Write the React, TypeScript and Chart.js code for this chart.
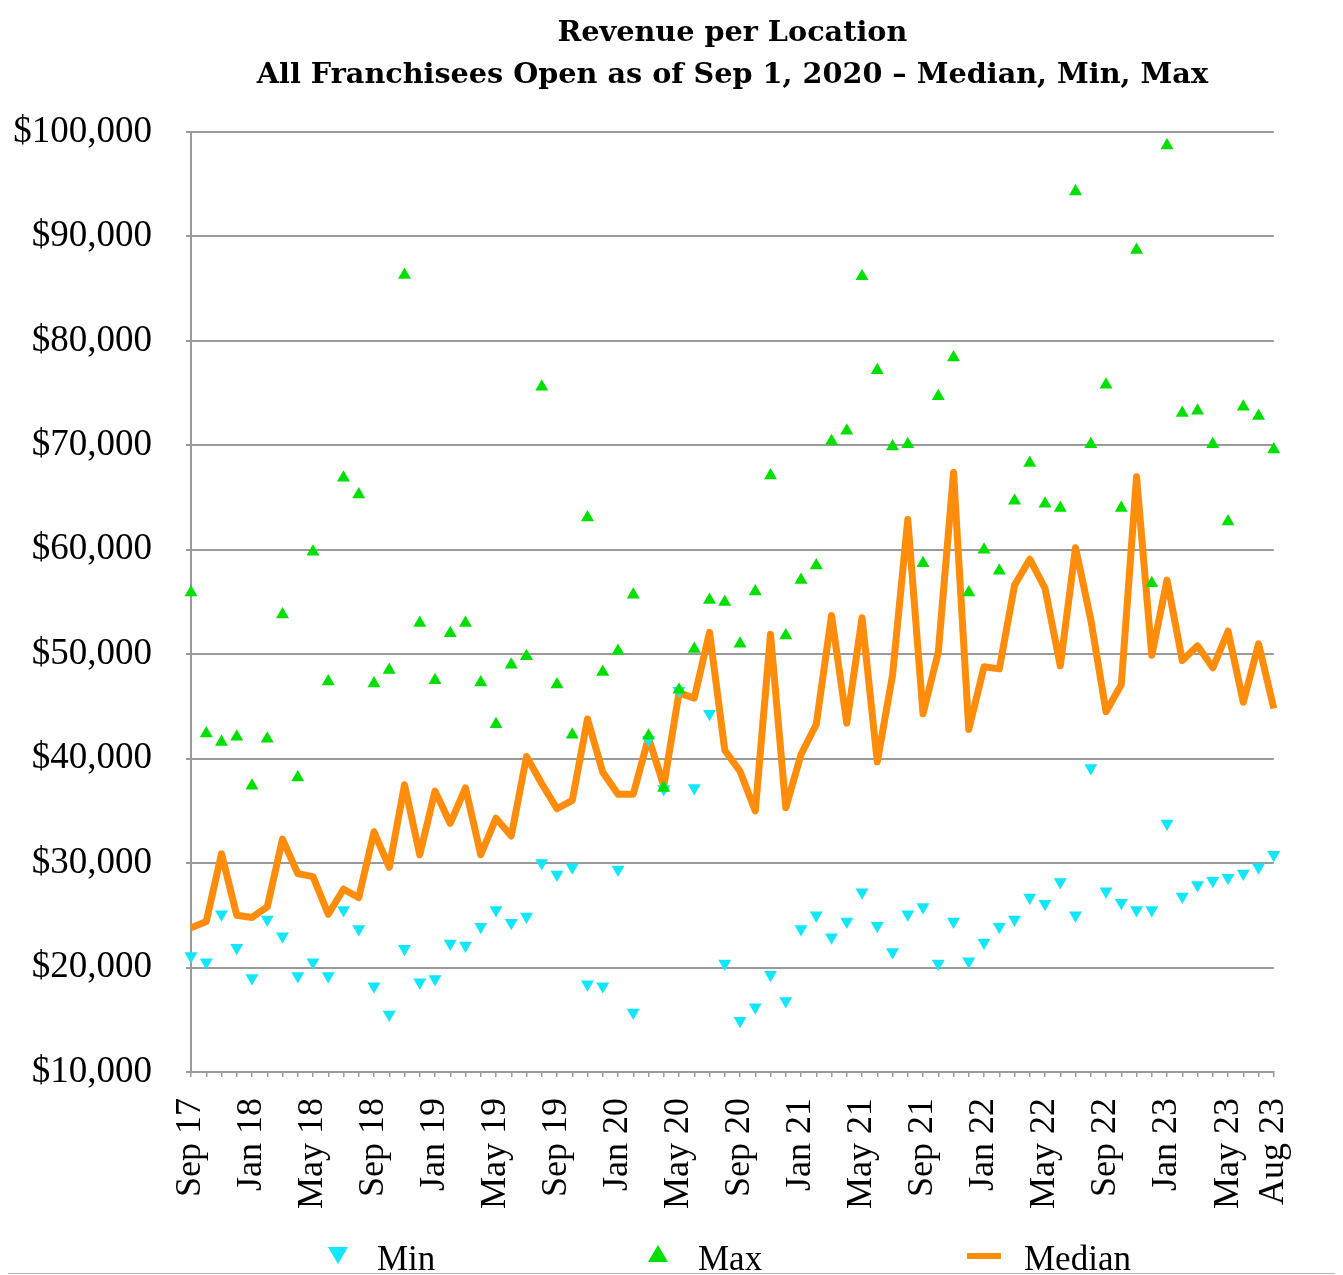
import React, { useEffect, useRef } from 'react';
import { Chart, registerables } from 'chart.js';

Chart.register(...registerables);

const months = [
  'Sep 17', 'Oct 17', 'Nov 17', 'Dec 17',
  'Jan 18', 'Feb 18', 'Mar 18', 'Apr 18', 'May 18', 'Jun 18', 'Jul 18', 'Aug 18', 'Sep 18', 'Oct 18', 'Nov 18', 'Dec 18',
  'Jan 19', 'Feb 19', 'Mar 19', 'Apr 19', 'May 19', 'Jun 19', 'Jul 19', 'Aug 19', 'Sep 19', 'Oct 19', 'Nov 19', 'Dec 19',
  'Jan 20', 'Feb 20', 'Mar 20', 'Apr 20', 'May 20', 'Jun 20', 'Jul 20', 'Aug 20', 'Sep 20', 'Oct 20', 'Nov 20', 'Dec 20',
  'Jan 21', 'Feb 21', 'Mar 21', 'Apr 21', 'May 21', 'Jun 21', 'Jul 21', 'Aug 21', 'Sep 21', 'Oct 21', 'Nov 21', 'Dec 21',
  'Jan 22', 'Feb 22', 'Mar 22', 'Apr 22', 'May 22', 'Jun 22', 'Jul 22', 'Aug 22', 'Sep 22', 'Oct 22', 'Nov 22', 'Dec 22',
  'Jan 23', 'Feb 23', 'Mar 23', 'Apr 23', 'May 23', 'Jun 23', 'Jul 23', 'Aug 23',
];

const shownTicks = [
  'Sep 17', 'Jan 18', 'May 18', 'Sep 18', 'Jan 19', 'May 19', 'Sep 19', 'Jan 20', 'May 20', 'Sep 20',
  'Jan 21', 'May 21', 'Sep 21', 'Jan 22', 'May 22', 'Sep 22', 'Jan 23', 'May 23', 'Aug 23',
];

const medianValues = [
  23800, 24400, 30900, 25000, 24800, 25800, 32300, 29000, 28700, 25100,
  27500, 26700, 33000, 29600, 37500, 30800, 36900, 33800, 37200, 30800,
  34300, 32600, 40200, 37600, 35200, 36000, 43800, 38700, 36600, 36600,
  42000, 37400, 46300, 45800, 52100, 40800, 38800, 35000, 51900, 35300,
  40400, 43300, 53700, 43400, 53500, 39700, 48000, 62900, 44300, 50200,
  67400, 42800, 48800, 48600, 56600, 59100, 56300, 48900, 60200, 53300,
  44500, 47100, 67000, 49900, 57100, 49400, 50800, 48700, 52200, 45400,
  51000, 44800,
];

const maxValues = [
  55900, 42400, 41600, 42100, 37400, 41900, 53800, 38200, 59800, 47400,
  66900, 65300, 47200, 48500, 86300, 53000, 47500, 52000, 53000, 47300,
  43300, 49000, 49800, 75600, 47100, 42300, 63100, 48300, 50300, 55700,
  42200, 37200, 46600, 50500, 55200, 55000, 51000, 56000, 67100, 51800,
  57100, 58500, 70400, 71400, 86200, 77200, 69900, 70100, 58700, 74700,
  78400, 55900, 60000, 58000, 64700, 68300, 64400, 64000, 94300, 70100,
  75800, 64000, 88700, 56800, 98700, 73100, 73300, 70100, 62700, 73700,
  72800, 69600,
];

const minValues = [
  21100, 20500, 25100, 21900, 19000, 24600, 23000, 19200, 20500, 19200,
  25500, 23700, 18200, 15500, 21800, 18600, 18900, 22300, 22100, 23900,
  25500, 24300, 24900, 30000, 28900, 29600, 18400, 18200, 29400, 15700,
  41800, 37100, 46500, 37200, 44300, 20400, 14900, 16200, 19300, 16800,
  23700, 25000, 22900, 24400, 27200, 24000, 21500, 25100, 25800, 20400,
  24400, 20600, 22400, 23900, 24600, 26700, 26100, 28200, 25000, 39100,
  27300, 26200, 25500, 25500, 33800, 26800, 27900, 28300, 28600, 29000,
  29600, 30800,
];

const yTickLabels = [
  '$10,000', '$20,000', '$30,000', '$40,000', '$50,000',
  '$60,000', '$70,000', '$80,000', '$90,000', '$100,000',
];

const titleLines = [
  'Revenue per Location',
  'All Franchisees Open as of Sep 1, 2020 \u2013 Median, Min, Max',
];

const seriesNames = ['Min', 'Max', 'Median'];

const COLOR_MIN = '#12e6fb';
const COLOR_MAX = '#00e000';
const COLOR_MED = '#ff8c0a';
const GRID = '#9a9a9a';

const decorPlugin = {
  id: 'decor',
  afterDraw(chart: any) {
    const { ctx, chartArea } = chart;
    const cx = (chartArea.left + chartArea.right) / 2;
    const L = chartArea.left;
    ctx.save();
    ctx.fillStyle = '#000';
    ctx.textAlign = 'center';
    ctx.textBaseline = 'alphabetic';
    ctx.font = 'bold 28.7px "DejaVu Serif"';
    ctx.fillText(titleLines[0], cx, 33);
    ctx.fillText(titleLines[1], cx, 75);

    const by = 1262;
    // Min: down triangle
    ctx.fillStyle = COLOR_MIN;
    ctx.beginPath();
    ctx.moveTo(L + 137, 1239);
    ctx.lineTo(L + 157, 1239);
    ctx.lineTo(L + 147, 1256);
    ctx.closePath();
    ctx.fill();
    // Max: up triangle
    ctx.fillStyle = COLOR_MAX;
    ctx.beginPath();
    ctx.moveTo(L + 457, 1254);
    ctx.lineTo(L + 477, 1254);
    ctx.lineTo(L + 467, 1237);
    ctx.closePath();
    ctx.fill();
    // Median: short line
    ctx.fillStyle = COLOR_MED;
    ctx.fillRect(L + 776, 1245, 34, 6);

    ctx.fillStyle = '#000';
    ctx.textAlign = 'left';
    ctx.font = '35px "Liberation Serif"';
    ctx.fillText(seriesNames[0], L + 186, by);
    ctx.fillText(seriesNames[1], L + 507, by);
    ctx.fillText(seriesNames[2], L + 833, by);
    ctx.restore();
  },
};

export default function App() {
  const canvasRef = useRef<HTMLCanvasElement | null>(null);

  useEffect(() => {
    const canvas = canvasRef.current;
    if (!canvas) return;
    const chart = new Chart(canvas, {
      type: 'line',
      data: {
        labels: months,
        datasets: [
          {
            label: seriesNames[0],
            data: minValues,
            showLine: false,
            pointStyle: 'triangle',
            rotation: 180,
            pointRadius: 7.5,
            pointBackgroundColor: COLOR_MIN,
            pointBorderWidth: 0,
            backgroundColor: COLOR_MIN,
            borderColor: COLOR_MIN,
            clip: false,
            order: 1,
          } as any,
          {
            label: seriesNames[1],
            data: maxValues,
            showLine: false,
            pointStyle: 'triangle',
            pointRadius: 7.5,
            pointBackgroundColor: COLOR_MAX,
            pointBorderWidth: 0,
            backgroundColor: COLOR_MAX,
            borderColor: COLOR_MAX,
            clip: false,
            order: 0,
          } as any,
          {
            label: seriesNames[2],
            data: medianValues,
            borderColor: COLOR_MED,
            backgroundColor: COLOR_MED,
            borderWidth: 7,
            pointRadius: 0,
            tension: 0,
            borderJoinStyle: 'round',
            fill: false,
            clip: false,
            order: 2,
          } as any,
        ],
      },
      options: {
        responsive: false,
        animation: false,
        devicePixelRatio: 1,
        layout: { padding: { top: 124, right: 63, bottom: 61, left: 0 } },
        plugins: {
          legend: { display: false },
          title: { display: false },
          tooltip: { enabled: false },
        },
        scales: {
          x: {
            type: 'category',
            ticks: {
              autoSkip: false,
              maxRotation: 90,
              minRotation: 90,
              padding: 21,
              color: '#000',
              font: { family: 'Liberation Serif', size: 36 },
              callback: (_v: any, i: number) => (shownTicks.includes(months[i]) ? months[i] : ''),
            },
            grid: {
              display: true,
              drawOnChartArea: false,
              drawTicks: true,
              tickLength: 5,
              color: GRID,
              lineWidth: 1.5,
            },
            border: { display: true, color: GRID, width: 2 },
            afterFit: (s: any) => {
              s.height = 140;
            },
          },
          y: {
            min: 10000,
            max: 100000,
            ticks: {
              stepSize: 10000,
              padding: 34,
              color: '#000',
              font: { family: 'Liberation Serif', size: 37 },
              callback: (_v: any, i: number) => yTickLabels[i],
            },
            grid: { color: GRID, lineWidth: 2, tickLength: 5, drawTicks: true },
            border: { display: true, color: GRID, width: 2 },
            afterFit: (s: any) => {
              s.width = 183;
            },
          },
        },
      },
      plugins: [decorPlugin],
    });
    return () => chart.destroy();
  }, []);

  return (
    <div
      style={{
        width: 1330,
        height: 1265,
        border: '1px solid #b4b4b4',
        margin: '-1px 0 0 -1px',
        background: '#fff',
      }}
    >
      <canvas ref={canvasRef} width={1330} height={1265} style={{ display: 'block' }} />
    </div>
  );
}
